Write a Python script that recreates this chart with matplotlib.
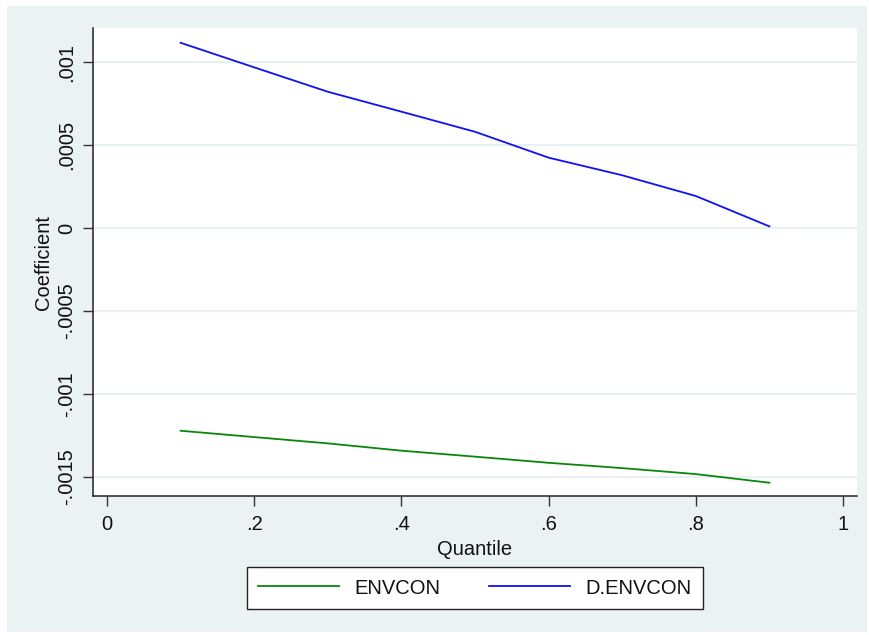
import matplotlib
matplotlib.use("Agg")
import matplotlib.pyplot as plt
from matplotlib.patches import Rectangle
from matplotlib.lines import Line2D

# Quantile-regression coefficients by quantile
quantiles = [0.1, 0.2, 0.3, 0.4, 0.5, 0.6, 0.7, 0.8, 0.9]
envcon = [-0.001221, -0.001259, -0.001297, -0.001341, -0.001377,
          -0.001414, -0.001446, -0.001482, -0.001534]
d_envcon = [0.001116, 0.000968, 0.000821, 0.000701, 0.000580,
            0.000424, 0.000318, 0.000193, 0.000010]

x_ticks = [0, 0.2, 0.4, 0.6, 0.8, 1.0]
x_ticklabels = ["0", ".2", ".4", ".6", ".8", "1"]
y_ticks = [0.001, 0.0005, 0.0, -0.0005, -0.001, -0.0015]
y_ticklabels = [".001", ".0005", "0", "-.0005", "-.001", "-.0015"]

plt.rcParams["font.family"] = ["Liberation Sans", "DejaVu Sans"]

W, H = 869, 635
fig = plt.figure(figsize=(W / 100, H / 100), dpi=100, facecolor="white")

# Graph region background
bg = "#EAF2F3"
fig.add_artist(Rectangle((7 / W, 3 / H), 860 / W, 626 / H,
                         transform=fig.transFigure, facecolor=bg,
                         edgecolor="none", zorder=-10))

left, right, top, bottom = 93, 857, 28, 496
ax = fig.add_axes([left / W, 1 - bottom / H, (right - left) / W, (bottom - top) / H])
ax.set_zorder(1)
ax.set_facecolor("white")

ax.plot(quantiles, envcon, color="#0a870a", lw=1.3, label="ENVCON", zorder=3)
ax.plot(quantiles, d_envcon, color="#1010f5", lw=1.3, label="D.ENVCON", zorder=3)

ax.set_xlim(-0.019, 1.019)
ax.set_ylim(-0.001614, 0.001205)

fs = 14.5
ax.set_xticks(x_ticks)
ax.set_xticklabels(x_ticklabels, fontsize=fs)
ax.set_yticks(y_ticks)
ax.set_yticklabels(y_ticklabels, fontsize=fs, rotation=90, va="center")

ax.grid(axis="y", color="#E4EDEF", lw=1.2, zorder=1)
ax.grid(axis="x", visible=False)

for s in ("top", "right"):
    ax.spines[s].set_visible(False)
for s in ("left", "bottom"):
    ax.spines[s].set_color("#222222")
    ax.spines[s].set_linewidth(1.1)

ax.tick_params(axis="both", direction="out", length=7, width=1.0,
               color="#333333", labelcolor="#111111")
ax.tick_params(axis="x", pad=7)
ax.tick_params(axis="y", pad=5)

ax.set_xlabel("Quantile", fontsize=fs, color="#111111", labelpad=4)
ax.set_ylabel("Coefficient", fontsize=fs, color="#111111", labelpad=3)

handles = [Line2D([], [], color="#0a870a", lw=1.3),
           Line2D([], [], color="#1010f5", lw=1.3)]
leg = fig.legend(handles, ["ENVCON", "D.ENVCON"], ncol=2,
                 loc="center", bbox_to_anchor=(475 / W, 1 - 588 / H),
                 fontsize=14.5, frameon=True, fancybox=False,
                 handlelength=4.0, handletextpad=0.8, columnspacing=2.4,
                 borderpad=0.55, borderaxespad=0)
leg.set_zorder(5)
frame = leg.get_frame()
frame.set_edgecolor("#222222")
frame.set_linewidth(1.0)
frame.set_facecolor("white")
frame.set_alpha(1)
for t in leg.get_texts():
    t.set_color("#111111")

fig.savefig("out.png", dpi=100, facecolor=fig.get_facecolor())
